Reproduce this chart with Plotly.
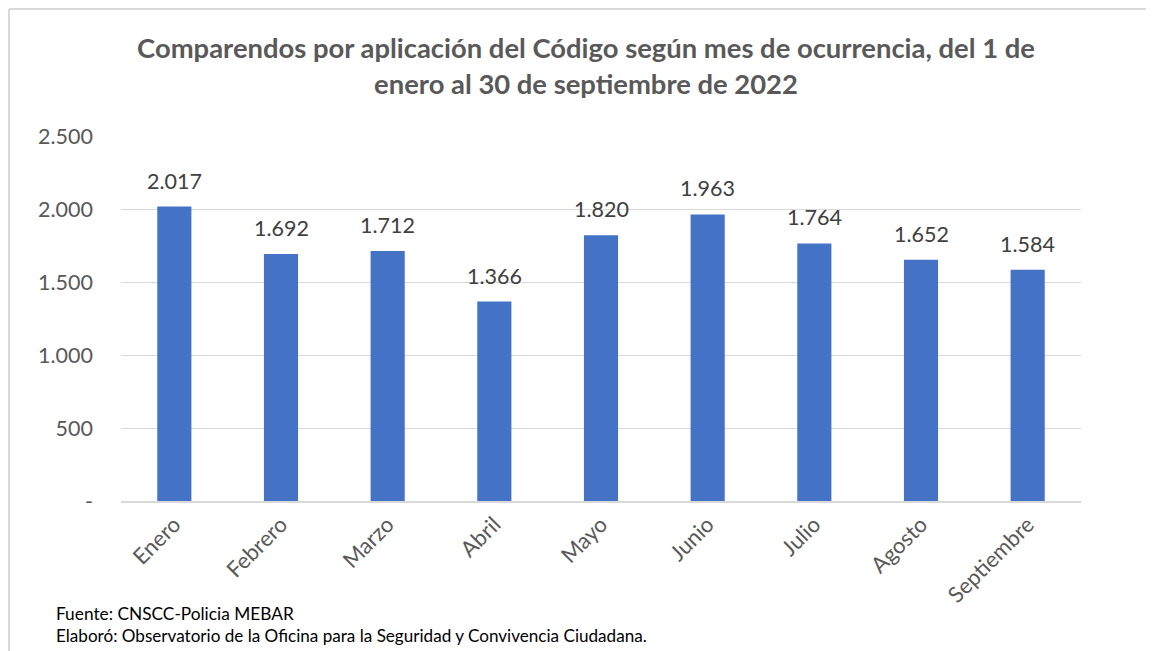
import plotly.graph_objects as go

# datos
meses = ['Enero', 'Febrero', 'Marzo', 'Abril', 'Mayo', 'Junio', 'Julio', 'Agosto', 'Septiembre']
comparendos = [2017, 1692, 1712, 1366, 1820, 1963, 1764, 1652, 1584]
etiquetas = ['2.017', '1.692', '1.712', '1.366', '1.820', '1.963', '1.764', '1.652', '1.584']
ticks_y = [0, 500, 1000, 1500, 2000, 2500]
ticks_y_texto = ['-', '500', '1.000', '1.500', '2.000', '2.500']

FUENTE = "Lato, 'Open Sans', sans-serif"

fig = go.Figure(go.Bar(
    x=meses,
    y=comparendos,
    marker=dict(color='#4472C4', line=dict(width=0)),
    hovertemplate='%{x}: %{y:,}<extra></extra>',
))

# etiquetas de datos sobre cada barra
for mes, valor, etiqueta in zip(meses, comparendos, etiquetas):
    fig.add_annotation(
        x=mes, y=valor, text=etiqueta,
        showarrow=False, yanchor='bottom', yshift=11,
        font=dict(size=21.5, color='#404040', family=FUENTE),
    )

fig.update_layout(
    title=dict(
        text='Comparendos por aplicación del Código según mes de ocurrencia, del 1 de<br>enero al 30 de septiembre de 2022',
        font=dict(size=27.4, color='#595959', family=FUENTE, weight='bold'),
        x=578 / 1146, xanchor='center',
        y=1 - 50 / 643, yanchor='middle', yref='container',
    ),
    xaxis=dict(
        tickangle=-45,
        tickfont=dict(size=22, color='#595959', family=FUENTE),
        showgrid=False,
        showline=True, linecolor='#D9D9D9', linewidth=2,
        ticks='',
    ),
    yaxis=dict(
        range=[0, 2500],
        tickvals=ticks_y,
        ticktext=ticks_y_texto,
        tickfont=dict(size=21.5, color='#595959', family=FUENTE),
        showgrid=True, gridcolor='#D9D9D9', gridwidth=1,
        zeroline=False,
        ticks='', ticklabelstandoff=27,
    ),
    bargap=0.68,
    showlegend=False,
    plot_bgcolor='white',
    paper_bgcolor='white',
    width=1146, height=643,
    margin=dict(l=113, r=73, t=128, b=150),
)

# pie de página
fig.add_annotation(
    text='Fuente: CNSCC-Policia MEBAR',
    xref='paper', yref='paper', x=-67 / 960, y=-112 / 365,
    xanchor='left', yanchor='middle', showarrow=False,
    font=dict(size=17.3, color='#000000', family=FUENTE),
)
fig.add_annotation(
    text='Elaboró: Observatorio de la Oficina para la Seguridad y Convivencia Ciudadana.',
    xref='paper', yref='paper', x=-67 / 960, y=-134 / 365,
    xanchor='left', yanchor='middle', showarrow=False,
    font=dict(size=17.1, color='#000000', family=FUENTE),
)

# borde del recuadro
fig.add_shape(type='line', xref='paper', yref='paper',
              x0=-112 / 960, x1=1.2, y0=1 + 127 / 365, y1=1 + 127 / 365,
              line=dict(color='#D9D9D9', width=2))
fig.add_shape(type='line', xref='paper', yref='paper',
              x0=-112 / 960, x1=-112 / 960, y0=1 + 127 / 365, y1=-0.5,
              line=dict(color='#D9D9D9', width=2))

fig.write_html("out.html")
